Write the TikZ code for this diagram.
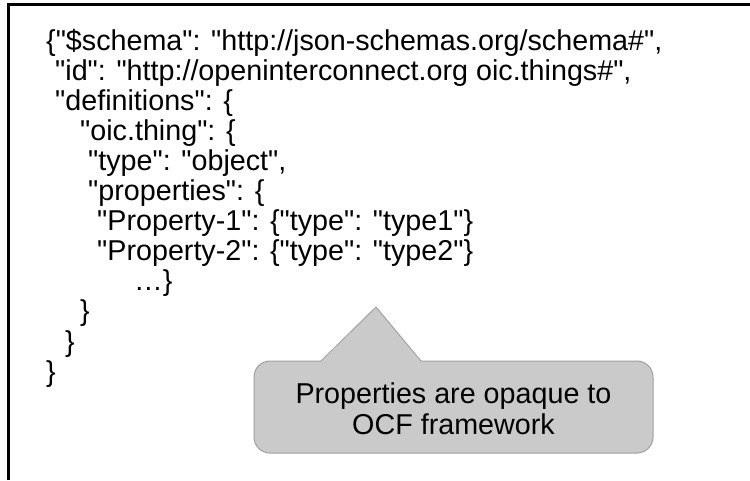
\documentclass[tikz,border=0pt]{standalone}
\usepackage{fontspec}
\setmainfont{Liberation Sans}[Ligatures=TeXOff]
\definecolor{calloutfill}{HTML}{CACACA}
\definecolor{calloutline}{HTML}{A0A0A0}
\begin{document}
\begin{tikzpicture}[x=1pt,y=1pt,
  codeline/.style={anchor=base west, inner sep=0pt, font=\fontsize{28.7}{30.1}\selectfont},
  notetext/.style={align=center, inner sep=0pt, font=\fontsize{28.7}{30.6}\selectfont}]
\useasboundingbox (0,0) rectangle (750,-480);
% frame
\draw[line width=3pt] (8.5,-480) -- (8.5,-4.5) -- (750,-4.5);
% JSON text
\node[codeline] (l1)  at (46,-50)    {\{"\$schema": "http://json-schemas.org/schema\#",};
\node[codeline] (l2)  at (55,-80.1)  {"id": "http://openinterconnect.org oic.things\#",};
\node[codeline] (l3)  at (55,-110.2) {"definitions": \{};
\node[codeline] (l4)  at (80,-140.3) {"oic.thing": \{};
\node[codeline] (l5)  at (88,-170.4) {"type": "object",};
\node[codeline] (l6)  at (88,-200.5) {"properties": \{};
\node[codeline] (l7)  at (97,-230.6) {"Property-1": \{"type": "type1"\}};
\node[codeline] (l8)  at (97,-260.7) {"Property-2": \{"type": "type2"\}};
\node[codeline] (l9)  at (134,-290.8) {…\}};
\node[codeline] (l10) at (80,-320.9) {\}};
\node[codeline] (l11) at (65,-351)   {\}};
\node[codeline] (l12) at (46,-381.1) {\}};
% callout
\draw[fill=calloutfill, draw=calloutline, line width=1pt, rounded corners=16pt]
  (254,-361) rectangle (653,-453);
\fill[calloutfill] (321,-362) -- (376,-307) -- (421,-362) -- cycle;
\draw[calloutline, line width=1pt] (321,-361) -- (376,-307) -- (421,-361);
\node[notetext] (note) at (453.5,-409) {Properties are opaque to\\OCF framework};
\end{tikzpicture}
\end{document}
